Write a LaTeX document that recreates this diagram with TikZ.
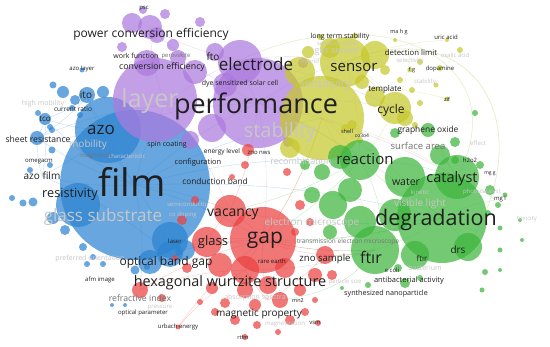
\documentclass[tikz,border=0pt]{standalone}
\usepackage{fontspec}
\setmainfont{Open Sans}
\definecolor{bl}{RGB}{45,132,210}
\definecolor{pu}{RGB}{172,122,222}
\definecolor{ye}{RGB}{198,200,45}
\definecolor{gr}{RGB}{62,182,62}
\definecolor{re}{RGB}{236,66,66}
\newcommand\fs[1]{\fontsize{#1}{#1}\selectfont}
\newcommand\vc[4]{\fill[#4,opacity=.72] (#1,#2) circle[radius=#3pt];}
\begin{document}
\begin{tikzpicture}[x=1pt,y=-1pt,
  lab/.style={inner sep=0pt,text=black!88},
  midlab/.style={inner sep=0pt,text=black!55},
  ghost/.style={inner sep=0pt,text=black!22},
  edge/.style={line width=.35pt,opacity=.3}]
\useasboundingbox (0,0) rectangle (550,347);
\fill[white] (0,0) rectangle (550,347);
% hubs
\coordinate (F) at (135,185); \coordinate (A) at (108,130); \coordinate (Ito) at (87,97);
\coordinate (Tco) at (45,119); \coordinate (Sr) at (37,138); \coordinate (Az) at (42,176);
\coordinate (L) at (165,105); \coordinate (P) at (258,103); \coordinate (E) at (240,60);
\coordinate (Pc) at (150,28); \coordinate (S) at (345,62); \coordinate (St) at (322,118);
\coordinate (Cy) at (395,108); \coordinate (Dl) at (410,55); \coordinate (Tp) at (385,90);
\coordinate (R) at (360,160); \coordinate (D) at (442,218); \coordinate (Ca) at (457,177);
\coordinate (W) at (405,177); \coordinate (Ft) at (375,250); \coordinate (Dr) at (468,247);
\coordinate (Sa) at (440,146); \coordinate (G) at (263,240); \coordinate (V) at (230,211);
\coordinate (Gl) at (207,242); \coordinate (H) at (245,270); \coordinate (Mp) at (268,300);
\coordinate (Zs) at (325,255); \coordinate (Ob) at (170,254); \coordinate (Ri) at (140,290);
\coordinate (Ur) at (178,327); \coordinate (Mg) at (495,200); \coordinate (Zf) at (447,99);
\coordinate (Ua) at (446,40);
% edges
\foreach \a/\b in {F/A,F/L,F/P,F/G,F/V,F/D,F/Ob,F/Sr,F/Az,F/Tco,F/Ito,A/Ito,A/Tco,A/Sr,A/Az,Tco/Sr,Ito/Sr,Az/Sr,F/Ri,Ob/G,A/P,F/R,Tco/Az,Ito/Tco,F/St,Az/Ob,Sr/L}
  \draw[edge,bl] (\a) to[bend left=8] (\b);
\foreach \a/\b in {L/P,P/E,P/St,P/S,P/R,P/D,P/G,E/S,L/Pc,P/Pc,E/Pc,L/E,P/Ca,P/Cy,L/V,E/Cy}
  \draw[edge,pu] (\a) to[bend left=8] (\b);
\foreach \a/\b in {St/S,S/Cy,St/D,S/Dl,S/R,St/R,St/G,Cy/R,Cy/Ca,S/Tp,St/Ca,Dl/Cy,Tp/Zf,S/Ua,St/Ft}
  \draw[edge,ye] (\a) to[bend left=8] (\b);
\foreach \a/\b in {D/Ca,D/R,D/W,D/Ft,D/G,R/Ca,D/Dr,Ft/G,D/Mg,Ca/Sa,R/G,Ft/Zs,D/V,R/V,D/Gl,Ft/H,Ca/Mg}
  \draw[edge,gr] (\a) to[bend left=8] (\b);
\foreach \a/\b in {G/V,G/Gl,G/H,G/Zs,G/Mp,V/Gl,H/Mp,Gl/Ob,G/Ri,H/Ri,G/Ur,G/Ft,V/P,G/St,H/Ur,Zs/Ft,Mp/Zs}
  \draw[edge,re] (\a) to[bend right=8] (\b);
\draw[edge,ye!70!gr,line width=.6pt] (S) .. controls (470,10) and (545,120) .. (Dr);
\draw[edge,ye!70!gr,line width=.5pt] (E) .. controls (380,-5) and (520,60) .. (Ca);
\draw[edge,gr] (R) .. controls (420,260) and (330,300) .. (Mp);
% blue circles
\vc{135}{185}{75}{bl} \vc{108}{130}{33}{bl} \vc{78}{205}{22}{bl} \vc{170}{240}{18}{bl}
\vc{150}{262}{12}{bl} \vc{185}{250}{10}{bl} \vc{87}{95}{8}{bl} \vc{63}{92}{6}{bl}
\vc{53}{85}{3.5}{bl} \vc{75}{100}{5}{bl} \vc{103}{92}{6}{bl} \vc{72}{108}{3}{bl}
\vc{80}{115}{3}{bl} \vc{45}{119}{6}{bl} \vc{38}{113}{3}{bl} \vc{50}{127}{3}{bl}
\vc{37}{138}{7}{bl} \vc{52}{150}{3.5}{bl} \vc{52}{130}{3}{bl} \vc{23}{203}{3.5}{bl}
\vc{33}{202}{4.5}{bl} \vc{12}{198}{3}{bl} \vc{50}{165}{3}{bl} \vc{53}{218}{6}{bl}
\vc{83}{247}{4}{bl} \vc{93}{257}{3}{bl} \vc{87}{264}{3}{bl} \vc{103}{264}{3}{bl}
\vc{135}{270}{4.5}{bl} \vc{147}{267}{3}{bl} \vc{112}{305}{2}{bl} \vc{125}{305}{2}{bl}
\vc{170}{254}{13}{bl} \vc{82}{70}{2.5}{bl} \vc{30}{170}{3}{bl} \vc{65}{230}{5}{bl}
% purple circles
\vc{155}{100}{42}{pu} \vc{258}{103}{45}{pu} \vc{240}{62}{22}{pu} \vc{150}{27}{12}{pu}
\vc{132}{23}{10}{pu} \vc{157}{35}{8}{pu} \vc{143}{10}{4}{pu} \vc{173}{45}{6}{pu}
\vc{215}{52}{9}{pu} \vc{147}{63}{13}{pu} \vc{195}{72}{12}{pu} \vc{122}{47}{5}{pu}
\vc{200}{22}{5}{pu} \vc{303}{63}{5}{pu} \vc{212}{128}{14}{pu} \vc{190}{140}{9}{pu}
\vc{178}{58}{8}{pu} \vc{225}{85}{12}{pu} \vc{288}{142}{5}{pu} \vc{165}{14}{5}{pu}
% yellow circles
\vc{322}{118}{42}{ye} \vc{345}{62}{25}{ye} \vc{375}{55}{14}{ye} \vc{330}{48}{10}{ye}
\vc{300}{72}{15}{ye} \vc{395}{108}{16}{ye} \vc{375}{97}{10}{ye} \vc{405}{118}{8}{ye}
\vc{362}{82}{7}{ye} \vc{290}{148}{10}{ye} \vc{352}{125}{5}{ye} \vc{385}{70}{5}{ye}
\vc{400}{80}{3}{ye} \vc{410}{70}{2.5}{ye} \vc{420}{62}{3}{ye} \vc{440}{68}{3}{ye}
\vc{460}{50}{3}{ye} \vc{447}{99}{2.5}{ye} \vc{436}{85}{2.5}{ye} \vc{412}{90}{3}{ye}
\vc{320}{37}{3}{ye} \vc{345}{128}{4}{ye} \vc{360}{140}{3}{ye} \vc{420}{103}{3}{ye}
\vc{415}{125}{3}{ye} \vc{355}{36}{3}{ye} \vc{395}{40}{2}{ye} \vc{447}{40}{2}{ye}
\vc{308}{52}{6}{ye}
% green circles
\vc{442}{218}{45}{gr} \vc{457}{177}{22}{gr} \vc{405}{177}{20}{gr} \vc{360}{160}{20}{gr}
\vc{340}{157}{12}{gr} \vc{333}{205}{14}{gr} \vc{350}{190}{12}{gr} \vc{375}{250}{24}{gr}
\vc{360}{222}{16}{gr} \vc{395}{215}{16}{gr} \vc{415}{255}{14}{gr} \vc{468}{247}{14}{gr}
\vc{428}{130}{7}{gr} \vc{395}{133}{5}{gr} \vc{455}{142}{5}{gr} \vc{440}{155}{10}{gr}
\vc{480}{165}{4}{gr} \vc{490}{190}{5}{gr} \vc{498}{205}{3}{gr} \vc{505}{195}{2.5}{gr}
\vc{488}{213}{3}{gr} \vc{500}{228}{2.5}{gr} \vc{520}{220}{2}{gr} \vc{522}{240}{2}{gr}
\vc{485}{272}{3}{gr} \vc{500}{270}{2}{gr} \vc{398}{268}{4}{gr} \vc{368}{285}{3}{gr}
\vc{405}{283}{5}{gr} \vc{420}{278}{3}{gr} \vc{342}{288}{2}{gr} \vc{330}{232}{7}{gr}
\vc{312}{195}{8}{gr} \vc{322}{172}{8}{gr} \vc{305}{165}{5}{gr} \vc{475}{113}{3}{gr}
\vc{455}{160}{4}{gr} \vc{500}{250}{2.5}{gr} \vc{482}{290}{2.5}{gr}
% red circles
\vc{263}{240}{33}{re} \vc{230}{211}{16}{re} \vc{207}{242}{15}{re} \vc{220}{265}{12}{re}
\vc{245}{270}{14}{re} \vc{285}{268}{10}{re} \vc{268}{285}{9}{re} \vc{245}{290}{8}{re}
\vc{212}{288}{6}{re} \vc{225}{303}{5}{re} \vc{280}{300}{8}{re} \vc{300}{290}{6}{re}
\vc{325}{255}{9}{re} \vc{315}{275}{7}{re} \vc{332}{275}{5}{re} \vc{182}{220}{5}{re}
\vc{248}{150}{6}{re} \vc{187}{268}{5}{re} \vc{140}{290}{8}{re} \vc{162}{298}{4}{re}
\vc{200}{302}{3}{re} \vc{215}{312}{4}{re} \vc{255}{305}{6}{re} \vc{235}{320}{5}{re}
\vc{257}{325}{4}{re} \vc{290}{320}{5}{re} \vc{305}{312}{4}{re} \vc{278}{332}{3}{re}
\vc{245}{165}{4}{re} \vc{232}{177}{3}{re} \vc{287}{172}{4}{re} \vc{300}{205}{5}{re}
\vc{295}{232}{4}{re} \vc{310}{222}{4}{re} \vc{195}{200}{4}{re} \vc{175}{258}{3}{re}
\vc{315}{300}{3}{re} \vc{245}{337}{3}{re} \vc{318}{323}{3}{re} \vc{178}{327}{2.5}{re}
% ghost labels
\node[ghost,font=\fs{25}] (lLayer) at (150,101) {layer};
\node[ghost,font=\fs{20}] (lStab) at (280,132) {stability};
\node[ghost,font=\fs{11}] (lSens) at (325,85) {sensitivity};
\node[ghost,font=\fs{9}] (lGas) at (337,52) {gas sensor};
\node[ghost,font=\fs{6}] (lSemi) at (338,43) {semiconductor};
\node[ghost,font=\fs{6}] (lHyb) at (310,62) {hybrid};
\node[ghost,font=\fs{6}] (lSel) at (410,61) {selectivity};
\node[ghost,font=\fs{6}] (lOx) at (455,55) {oxalic acid};
\node[ghost,font=\fs{6}] (lMof) at (425,82) {stability};
\node[ghost,font=\fs{9}] (lRec) at (301,161) {recombination};
\node[ghost,font=\fs{17}] (lGsub) at (103,217) {glass substrate};
\node[ghost,font=\fs{10}] (lMob) at (88,145) {mobility};
\node[ghost,font=\fs{7}] (lHm) at (43,104) {high mobility};
\node[ghost,font=\fs{6}] (lChar) at (127,156) {characteristic};
\node[ghost,font=\fs{6}] (lSc) at (188,204) {semiconductor};
\node[ghost,font=\fs{6}] (lCod) at (183,215) {co doping};
\node[ghost,font=\fs{10}] (lEm) at (312,223) {electron microscope};
\node[ghost,font=\fs{7}] (lPo) at (90,259) {preferred orientation};
\node[ghost,font=\fs{7}] (lAbs) at (255,298) {absorption spectra};
\node[ghost,font=\fs{6}] (lMgz) at (285,324) {magnetization};
\node[ghost,font=\fs{6}] (lPs) at (345,282) {particle size};
\node[ghost,font=\fs{6}] (lPh) at (160,308) {pressure};
\node[ghost,font=\fs{10}] (lVis) at (420,204) {visible light};
\node[ghost,font=\fs{6}] (lKin) at (420,192) {kinetic};
\node[ghost,font=\fs{6}] (lPhc) at (482,192) {photocatalyst};
\node[ghost,font=\fs{6}] (lEff) at (478,143) {effect};
\node[ghost,font=\fs{6}] (lTox) at (527,219) {toxicity};
\node[ghost,font=\fs{7}] (lBac) at (425,268) {bacterium};
% medium labels
\node[midlab,font=\fs{9.5}] (lSa) at (418,146) {surface area};
\node[midlab,font=\fs{8.7}] (lRi) at (140,298) {refractive index};
\node[midlab,font=\fs{6.5}] (lTem) at (348,242) {transmission electron microscope};
\node[midlab,font=\fs{6}] (lMag) at (96,156) {magnetron};
\node[midlab,font=\fs{6}] (lPer) at (176,56) {perovskite};
% labels
\node[lab,font=\fs{38}] (lFilm) at (132,182) {film};
\node[lab,font=\fs{27}] (lPerf) at (256,106) {performance};
\node[lab,font=\fs{21.5}] (lDeg) at (436,220) {degradation};
\node[lab,font=\fs{21}] (lGap) at (265,240) {gap};
\node[lab,font=\fs{17}] (lAzo) at (101,130) {azo};
\node[lab,font=\fs{17}] (lElec) at (256,64) {electrode};
\node[lab,font=\fs{15}] (lSensor) at (354,67) {sensor};
\node[lab,font=\fs{14.5}] (lCat) at (452,179) {catalyst};
\node[lab,font=\fs{15}] (lReac) at (365,159) {reaction};
\node[lab,font=\fs{16}] (lFtir) at (371,257) {ftır};
\node[lab,font=\fs{14}] (lVac) at (233,214) {vacancy};
\node[lab,font=\fs{13}] (lGlass) at (213,242) {glass};
\node[lab,font=\fs{14.4}] (lHex) at (230,283) {hexagonal wurtzite structure};
\node[lab,font=\fs{12}] (lObg) at (166,262) {optical band gap};
\node[lab,font=\fs{12.7}] (lRes) at (70,194) {resistivity};
\node[lab,font=\fs{12}] (lPce) at (151,34) {power conversion efficiency};
\node[lab,font=\fs{12}] (lCyc) at (391,110) {cycle};
\node[lab,font=\fs{10.5}] (lWat) at (406,182) {water};
\node[lab,font=\fs{10}] (lAzf) at (42,176) {azo film};
\node[lab,font=\fs{10}] (lIto) at (86,95) {ito};
\node[lab,font=\fs{10}] (lFto) at (213,57) {fto};
\node[lab,font=\fs{10}] (lDrs) at (458,250) {drs};
\node[lab,font=\fs{10}] (lMp) at (259,314) {magnetic property};
\node[lab,font=\fs{9.6}] (lZns) at (325,259) {zno sample};
\node[lab,font=\fs{8.8}] (lCe) at (162,67) {conversion efficiency};
\node[lab,font=\fs{8.6}] (lShr) at (38,139) {sheet resistance};
\node[lab,font=\fs{8.4}] (lGo) at (428,130) {graphene oxide};
\node[lab,font=\fs{8.3}] (lCb) at (215,181) {conduction band};
\node[lab,font=\fs{8}] (lTco) at (45,119) {tco};
\node[lab,font=\fs{8}] (lTemp) at (385,89) {template};
\node[lab,font=\fs{8}] (lFtir2) at (422,258) {ftır};
\node[lab,font=\fs{7.8}] (lDl) at (411,53) {detection limit};
\node[lab,font=\fs{7.5}] (lConf) at (198,163) {configuration};
\node[lab,font=\fs{7.5}] (lAba) at (409,281) {antibacterial activity};
\node[lab,font=\fs{7.2}] (lSyn) at (386,294) {synthesized nanoparticle};
\node[lab,font=\fs{7}] (lSpin) at (167,145) {spin coating};
\node[lab,font=\fs{7}] (lDye) at (240,84) {dye sensitized solar cell};
\node[lab,font=\fs{7}] (lWf) at (136,56) {work function};
\node[lab,font=\fs{7}] (lLts) at (340,37) {long term stability};
\node[lab,font=\fs{6.5}] (lEl) at (222,152) {energy level};
\node[lab,font=\fs{6}] (lZnw) at (259,153) {zno nws};
\node[lab,font=\fs{6.5}] (lCr) at (73,109) {current ratio};
\node[lab,font=\fs{6}] (lAzl) at (82,69) {azo layer};
\node[lab,font=\fs{6}] (lOm) at (39,162) {omegacm};
\node[lab,font=\fs{6}] (lPsc) at (144,9) {psc};
\node[lab,font=\fs{6}] (lLas) at (175,241) {laser};
\node[lab,font=\fs{6}] (lRe) at (272,261) {rare earth};
\node[lab,font=\fs{6}] (lAfm) at (100,280) {afm image};
\node[lab,font=\fs{6}] (lOp) at (143,313) {optical parameter};
\node[lab,font=\fs{6}] (lUe) at (178,327) {urbach energy};
\node[lab,font=\fs{5.5}] (lMn) at (298,301) {mn2};
\node[lab,font=\fs{6}] (lVsm) at (315,323) {vsm};
\node[lab,font=\fs{5.5}] (lRt) at (243,337) {rtfm};
\node[lab,font=\fs{6}] (lEc) at (392,270) {e coli};
\node[lab,font=\fs{5.5}] (lShell) at (347,131) {shell};
\node[lab,font=\fs{5}] (lCo) at (362,136) {co3o4};
\node[lab,font=\fs{6}] (lH2) at (470,160) {h2o2};
\node[lab,font=\fs{5}] (lMgg) at (490,174) {mg g};
\node[lab,font=\fs{6}] (lMgl) at (500,199) {mg l};
\node[lab,font=\fs{5.5}] (lMah) at (399,32) {ma h g};
\node[lab,font=\fs{6}] (lUa) at (446,37) {uric acid};
\node[lab,font=\fs{5.5}] (lFg) at (412,70) {f g};
\node[lab,font=\fs{6}] (lDop) at (440,69) {dopamine};
\node[lab,font=\fs{5.5}] (lZif) at (447,99) {zif};
\end{tikzpicture}
\end{document}
